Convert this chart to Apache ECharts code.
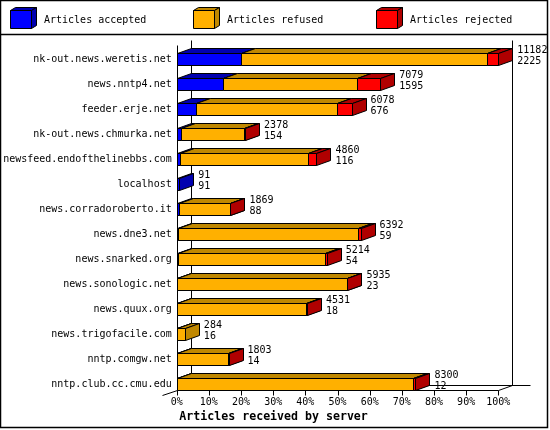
<!DOCTYPE html>
<html>
<head>
<meta charset="utf-8">
<script src="https://cdn.jsdelivr.net/npm/echarts@6/dist/echarts.min.js"></script>
<style>html,body{margin:0;padding:0;background:#fff}#c{width:550px;height:430px}</style>
</head>
<body>
<div id="c"></div>
<script>
// ---- data ----
const categories = ['nk-out.news.weretis.net','news.nntp4.net','feeder.erje.net','nk-out.news.chmurka.net','newsfeed.endofthelinebbs.com','localhost','news.corradoroberto.it','news.dne3.net','news.snarked.org','news.sonologic.net','news.quux.org','news.trigofacile.com','nntp.comgw.net','nntp.club.cc.cmu.edu'];
const accepted = [2225,1595,676,154,116,91,88,59,54,23,18,16,14,12];
const refused  = [8571,4667,4901,2199,4454,0,1751,6243,5108,5882,4493,268,1774,8198];
const rejected = [386,817,501,25,290,0,30,90,52,30,20,0,15,90];
const seriesNames = ['Articles accepted','Articles refused','Articles rejected'];
const xTicks = [0,10,20,30,40,50,60,70,80,90,100];
const axisTitle = 'Articles received by server';

// ---- styles ----
const FRONT = ['#0000ff','#ffb000','#ff0000'];
const DARK  = ['#0000b0','#c08800','#b00000'];
const DX = 14, DY = 5, HALF = 6;
const FONT = '10px "DejaVu Sans Mono"';

const totals = categories.map((_, i) => accepted[i] + refused[i] + rejected[i]);
const maxTotal = Math.max(...totals);
const pct = v => v / maxTotal * 100;
const barData = categories.map((_, i) => [i, pct(accepted[i]), pct(refused[i]), pct(rejected[i]), totals[i], accepted[i]]);

const r = v => Math.round(v) + 0.5;

function renderBars(params, api) {
  const i = api.value(0);
  const segs = [api.value(1), api.value(2), api.value(3)];
  const yc = api.coord([0, i])[1];
  const top = r(yc - HALF), bot = r(yc + HALF);
  const children = [];
  let start = 0;
  for (let k = 0; k < 3; k++) {
    if (segs[k] <= 0) continue;
    const x0 = r(api.coord([start, i])[0]);
    start += segs[k];
    const x1 = r(api.coord([start, i])[0]);
    children.push({type:'polygon', shape:{points:[[x0,top],[x1,top],[x1,bot],[x0,bot]]}, style:{fill:FRONT[k], stroke:'#000', lineWidth:1}});
    children.push({type:'polygon', shape:{points:[[x0,top],[x0+DX,top-DY],[x1+DX,top-DY],[x1,top]]}, style:{fill:DARK[k], stroke:'#000', lineWidth:1}});
    children.push({type:'polygon', shape:{points:[[x1,top],[x1+DX,top-DY],[x1+DX,bot-DY],[x1,bot]]}, style:{fill:DARK[k], stroke:'#000', lineWidth:1}});
  }
  const xe = api.coord([start, i])[0];
  children.push({type:'text', style:{text: api.value(4) + '\n' + api.value(5), x: xe + DX + 5, y: yc - 3.5, fill:'#000', font: FONT, align:'left', verticalAlign:'middle', lineHeight: 11}});
  return {type:'group', children};
}

function renderFrame(params, api) {
  const n = categories.length;
  const L = r(api.coord([0, 0])[0]);
  const R = r(api.coord([100, 0])[0]);
  const T = r(api.coord([0, 0])[1] - 14);
  const F = r(api.coord([0, n - 1])[1] + HALF);
  const ls = {stroke:'#000', lineWidth:1};
  const line = (x1,y1,x2,y2) => ({type:'line', shape:{x1,y1,x2,y2}, style:ls});
  const ch = [
    line(L+DX, T-DY, L+DX, F-DY),
    line(R+DX, T-DY, R+DX, F-DY),
    line(L+DX, F-DY, R+DX+18, F-DY),
    line(L, T, L, F),
    line(L, F, R, F),
    line(R, F, R+DX, F-DY),
    line(L, F, L-15, F+5)
  ];
  xTicks.forEach(v => {
    const x = r(api.coord([v, 0])[0]);
    ch.push(line(x, F, x, F+5));
  });
  return {type:'group', children: ch};
}

// legend graphics
const legendX = [10, 193, 376];
const legendEls = [];
seriesNames.forEach((name, k) => {
  const x = legendX[k] + 0.5, y0 = 10.5, w = 21, h = 18, dx = 5, dy = 3;
  legendEls.push({type:'polygon', shape:{points:[[x,y0],[x+w,y0],[x+w,y0+h],[x,y0+h]]}, style:{fill:FRONT[k], stroke:'#000', lineWidth:1}});
  legendEls.push({type:'polygon', shape:{points:[[x,y0],[x+dx,y0-dy],[x+w+dx,y0-dy],[x+w,y0]]}, style:{fill:DARK[k], stroke:'#000', lineWidth:1}});
  legendEls.push({type:'polygon', shape:{points:[[x+w,y0],[x+w+dx,y0-dy],[x+w+dx,y0+h-dy],[x+w,y0+h]]}, style:{fill:DARK[k], stroke:'#000', lineWidth:1}});
  legendEls.push({type:'text', x: legendX[k] + 34, y: 20, style:{text:name, fill:'#000', font: FONT, verticalAlign:'middle', align:'left'}});
});

const chart = echarts.init(document.getElementById('c'), null, {renderer:'canvas'});
chart.setOption({
  animation: false,
  backgroundColor: '#fff',
  grid: {left: 176.7, right: 51.7, top: 46.8, bottom: 33.2, containLabel: false},
  xAxis: {
    type:'value', min:0, max:100, interval:10,
    axisLine:{show:false}, axisTick:{show:false}, splitLine:{show:false},
    axisLabel:{formatter:'{value}%', margin:1, color:'#000', fontFamily:'DejaVu Sans Mono', fontSize:10}
  },
  yAxis: {
    type:'category', data: categories, inverse:true,
    axisLine:{show:false}, axisTick:{show:false}, splitLine:{show:false},
    axisLabel:{margin:5, color:'#000', fontFamily:'DejaVu Sans Mono', fontSize:10}
  },
  graphic: [
    {type:'rect', shape:{x:0.5, y:0.5, width:547, height:427}, style:{fill:'none', stroke:'#000', lineWidth:1.5}, z:10},
    {type:'line', shape:{x1:0, y1:34.5, x2:548, y2:34.5}, style:{stroke:'#000', lineWidth:1.5}},
    {type:'text', x: 273.6, y: 416.7, style:{text: axisTitle, fill:'#000', font:'bold 11.6px "DejaVu Sans Mono"', align:'center', verticalAlign:'middle'}},
    ...legendEls
  ],
  series: [
    {type:'custom', name:'frame', renderItem: renderFrame, data:[[0,0]], encode:{x:0, y:1}, z:1, silent:true, clip:false},
    {type:'custom', name:'bars', renderItem: renderBars, data: barData, encode:{y:0, x:[1,2,3]}, z:2, clip:false}
  ]
});
</script>
</body>
</html>
